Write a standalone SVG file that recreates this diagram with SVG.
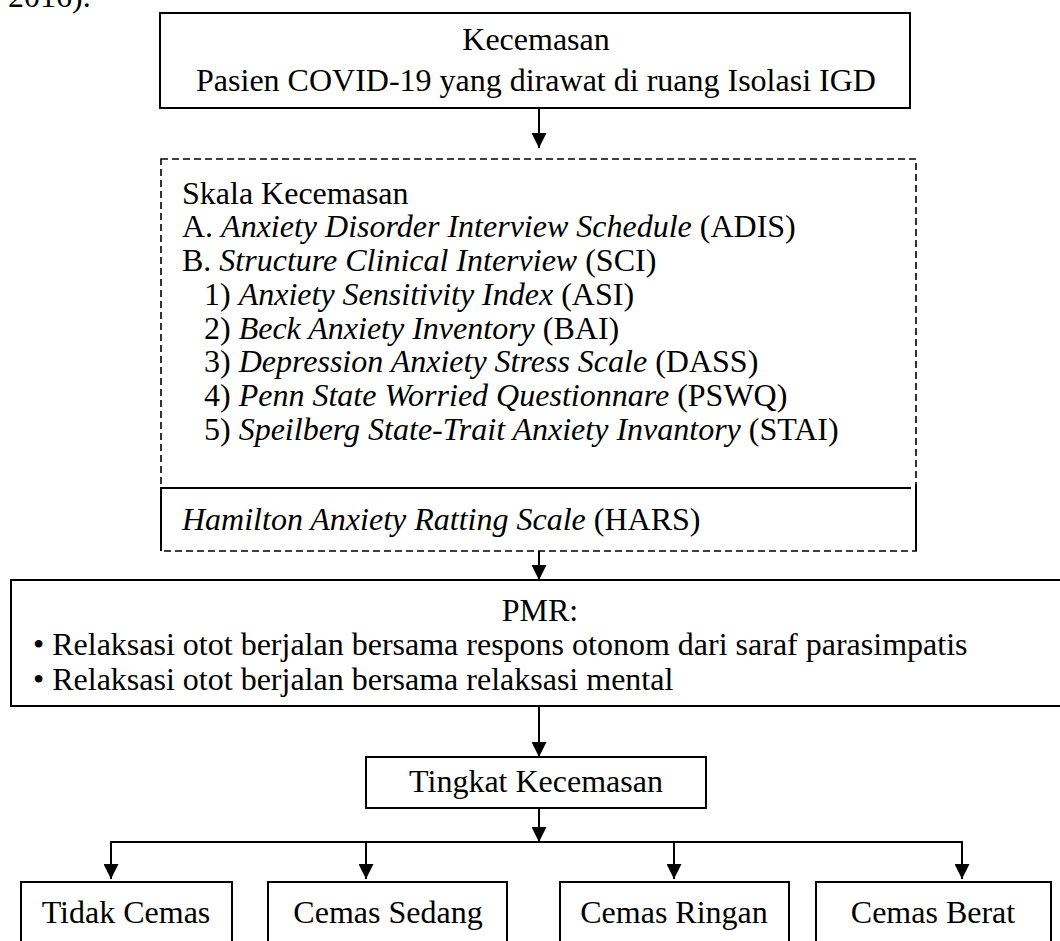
<svg xmlns="http://www.w3.org/2000/svg" width="1060" height="941" viewBox="0 0 1060 941">
<style>
text{font-family:"Liberation Serif","Times New Roman",serif;font-size:32px;fill:#000}
.c{text-anchor:middle}
.i{font-style:italic}
.box{fill:#fff;stroke:#000;stroke-width:2}
.dash{fill:none;stroke:#000;stroke-width:1.6;stroke-dasharray:7 4}
.ln{fill:none;stroke:#000;stroke-width:2}
.conn{fill:none;stroke:#000;stroke-width:2}
</style>
<defs>
<marker id="ah" viewBox="0 0 10 10" refX="10" refY="5" markerWidth="15" markerHeight="15" markerUnits="userSpaceOnUse" orient="auto">
<path d="M0,0 L10,5 L0,10 z" fill="#000"/>
</marker>
</defs>
<text x="8" y="7">2016).</text>
<g id="connectors">
<line class="conn" x1="539" y1="108" x2="539" y2="148" marker-end="url(#ah)"/>
<line class="conn" x1="539" y1="551" x2="539" y2="580" marker-end="url(#ah)"/>
<line class="conn" x1="539" y1="706" x2="539" y2="757" marker-end="url(#ah)"/>
<line class="conn" x1="539" y1="808" x2="539" y2="842" marker-end="url(#ah)"/>
<polyline class="conn" points="111,842 962,842"/>
<line class="conn" x1="111" y1="841" x2="111" y2="879" marker-end="url(#ah)"/>
<line class="conn" x1="366" y1="842" x2="366" y2="879" marker-end="url(#ah)"/>
<line class="conn" x1="674" y1="842" x2="674" y2="879" marker-end="url(#ah)"/>
<line class="conn" x1="962" y1="841" x2="962" y2="879" marker-end="url(#ah)"/>
</g>
<g id="node-top">
<rect class="box" x="160" y="13" width="750" height="95"/>
<text class="c" x="536" y="50">Kecemasan</text>
<text class="c" x="536" y="91">Pasien COVID-19 yang dirawat di ruang Isolasi IGD</text>
</g>
<g id="node-skala">
<rect class="dash" x="161" y="159" width="755" height="392"/>
<text x="182" y="204">Skala Kecemasan</text>
<text x="182" y="237">A. <tspan class="i">Anxiety Disorder Interview Schedule</tspan> (ADIS)</text>
<text x="182" y="271">B. <tspan class="i">Structure Clinical Interview</tspan> (SCI)</text>
<text x="204" y="305">1) <tspan class="i">Anxiety Sensitivity Index</tspan> (ASI)</text>
<text x="204" y="339">2) <tspan class="i">Beck Anxiety Inventory</tspan> (BAI)</text>
<text x="204" y="372">3) <tspan class="i">Depression Anxiety Stress Scale</tspan> (DASS)</text>
<text x="204" y="406">4) <tspan class="i">Penn State Worried Questionnare</tspan> (PSWQ)</text>
<text x="204" y="440">5) <tspan class="i">Speilberg State-Trait Anxiety Invantory</tspan> (STAI)</text>
</g>
<g id="node-hars">
<polyline class="ln" points="911,488 161,488 161,551"/>
<line class="ln" x1="916" y1="484" x2="916" y2="551"/>
<text x="182" y="530"><tspan class="i">Hamilton Anxiety Ratting Scale</tspan> (HARS)</text>
</g>
<g id="node-pmr">
<rect class="box" x="11" y="580" width="1060" height="126"/>
<text class="c" x="540" y="621">PMR:</text>
<text x="33" y="655">• Relaksasi otot berjalan bersama respons otonom dari saraf parasimpatis</text>
<text x="33" y="690">• Relaksasi otot berjalan bersama relaksasi mental</text>
</g>
<g id="node-tingkat">
<rect class="box" x="366" y="757" width="340" height="51"/>
<text class="c" x="536" y="792">Tingkat Kecemasan</text>
</g>
<g id="node-tidak">
<rect class="box" x="21" y="882" width="211" height="70"/>
<text class="c" x="126" y="923">Tidak Cemas</text>
</g>
<g id="node-sedang">
<rect class="box" x="268" y="882" width="239" height="70"/>
<text class="c" x="388" y="923">Cemas Sedang</text>
</g>
<g id="node-ringan">
<rect class="box" x="560" y="882" width="229" height="70"/>
<text class="c" x="674" y="923">Cemas Ringan</text>
</g>
<g id="node-berat">
<rect class="box" x="816" y="882" width="235" height="70"/>
<text class="c" x="933" y="923">Cemas Berat</text>
</g>
</svg>
